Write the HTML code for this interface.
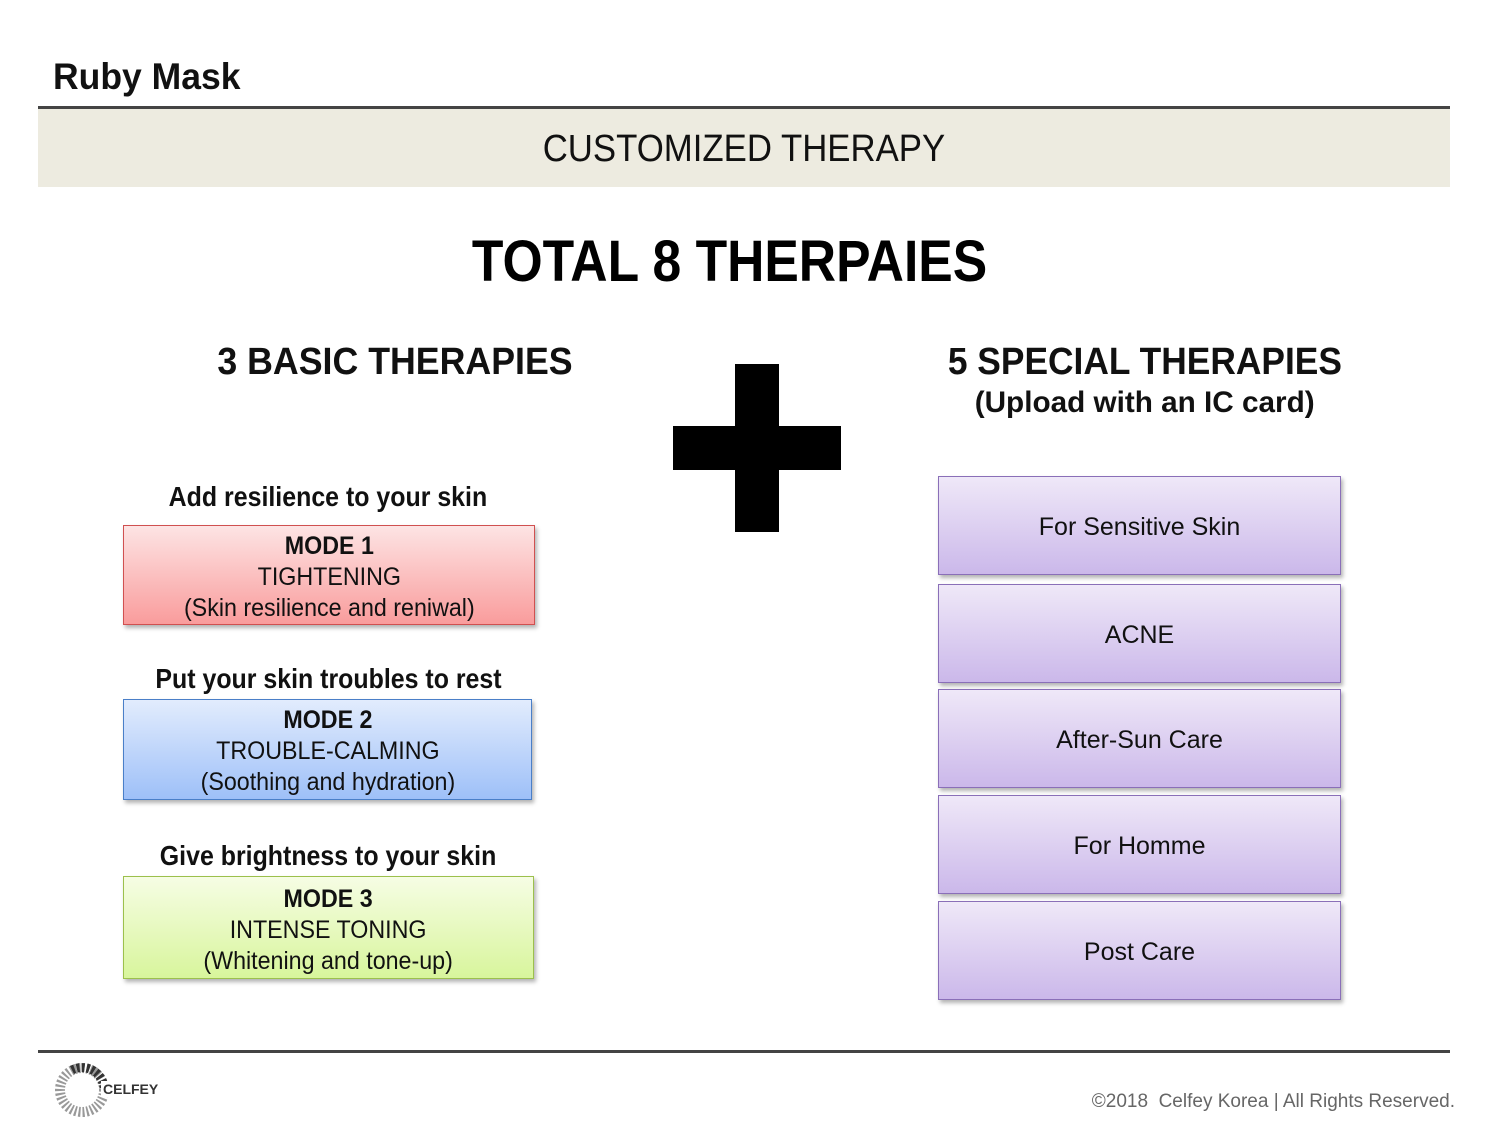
<!DOCTYPE html>
<html><head><meta charset="utf-8"><style>
body{margin:0;width:1500px;height:1125px;background:#fff;position:relative;overflow:hidden;font-family:"Liberation Sans",sans-serif}
.a{position:absolute}
.s{display:inline-block}
.box{position:absolute;box-sizing:border-box;text-align:center;box-shadow:2px 3px 4px rgba(0,0,0,.3);font-size:25px;line-height:31px;color:#111}
.box .s{transform:scaleX(.93)}
.p{position:absolute;left:938px;width:403px;height:99px;box-sizing:border-box;border:1.5px solid #8a6fb8;background:linear-gradient(#efe8f8,#cbb8ea);box-shadow:2px 3px 4px rgba(0,0,0,.3);text-align:center;line-height:100px;font-size:25px;color:#111}
.h{position:absolute;width:420px;left:118px;text-align:center;font-size:28px;font-weight:bold;color:#111}
.h .s{transform:scaleX(.89)}
</style></head><body>
<div class="a" style="left:53px;top:56px;font-size:37px;font-weight:bold;color:#111"><span class="s" style="transform:scaleX(.96);transform-origin:left">Ruby Mask</span></div>
<div class="a" style="left:38px;top:106px;width:1412px;height:3px;background:#444"></div>
<div class="a" style="left:38px;top:109px;width:1412px;height:78px;background:#edebe0;text-align:center;line-height:80px;font-size:38px;color:#111"><span class="s" style="transform:scaleX(.915)">CUSTOMIZED THERAPY</span></div>
<div class="a" style="left:0;width:1460px;top:228px;text-align:center;font-size:58px;font-weight:bold;color:#000"><span class="s" style="transform:scaleX(.89)">TOTAL 8 THERPAIES</span></div>
<div class="a" style="left:180px;width:430px;top:341px;text-align:center;font-size:38px;font-weight:bold;color:#111"><span class="s" style="transform:scaleX(.94)">3 BASIC THERAPIES</span></div>
<div class="a" style="left:920px;width:450px;top:341px;text-align:center;font-size:38px;font-weight:bold;color:#111"><span class="s" style="transform:scaleX(.93)">5 SPECIAL THERAPIES</span></div>
<div class="a" style="left:920px;width:450px;top:386px;text-align:center;font-size:30px;font-weight:bold;color:#111"><span class="s" style="transform:scaleX(.99)">(Upload with an IC card)</span></div>
<div class="a" style="left:735px;top:364px;width:44px;height:168px;background:#000"></div>
<div class="a" style="left:673px;top:426px;width:168px;height:44px;background:#000"></div>

<div class="h" style="top:481px"><span class="s">Add resilience to your skin</span></div>
<div class="box" style="left:123px;top:525px;width:412px;height:100px;border:1.5px solid #d05050;background:linear-gradient(#fde4e4,#f99c9c);padding-top:5px"><span class="s"><b>MODE 1</b><br>TIGHTENING<br>(Skin resilience and reniwal)</span></div>
<div class="h" style="top:663px"><span class="s">Put your skin troubles to rest</span></div>
<div class="box" style="left:123px;top:699px;width:409px;height:101px;border:1.5px solid #4a7fc8;background:linear-gradient(#e2ecfd,#9ec0f8);padding-top:5px"><span class="s"><b>MODE 2</b><br>TROUBLE-CALMING<br>(Soothing and hydration)</span></div>
<div class="h" style="top:840px"><span class="s">Give brightness to your skin</span></div>
<div class="box" style="left:123px;top:876px;width:411px;height:103px;border:1.5px solid #9cc04c;background:linear-gradient(#f6fde4,#d8f59c);padding-top:7px"><span class="s"><b>MODE 3</b><br>INTENSE TONING<br>(Whitening and tone-up)</span></div>

<div class="p" style="top:476px">For Sensitive Skin</div>
<div class="p" style="top:584px">ACNE</div>
<div class="p" style="top:689px">After-Sun Care</div>
<div class="p" style="top:795px">For Homme</div>
<div class="p" style="top:901px">Post Care</div>

<div class="a" style="left:38px;top:1050px;width:1412px;height:3px;background:#444"></div>
<svg class="a" style="left:52px;top:1060px" width="60" height="60"><circle cx="30" cy="30" r="22" fill="none" stroke="#999" stroke-width="10" stroke-dasharray="2 2"/><path d="M20 10 A22 22 0 0 1 52 28" fill="none" stroke="#333" stroke-width="9" stroke-dasharray="3 2"/></svg>
<div class="a" style="left:101px;top:1081px;font-size:14px;font-weight:bold;color:#333;background:#fff;padding-left:2px">CELFEY</div>
<div class="a" style="right:45px;top:1091px;font-size:19px;color:#666">©2018&nbsp; Celfey Korea | All Rights Reserved.</div>
</body></html>
